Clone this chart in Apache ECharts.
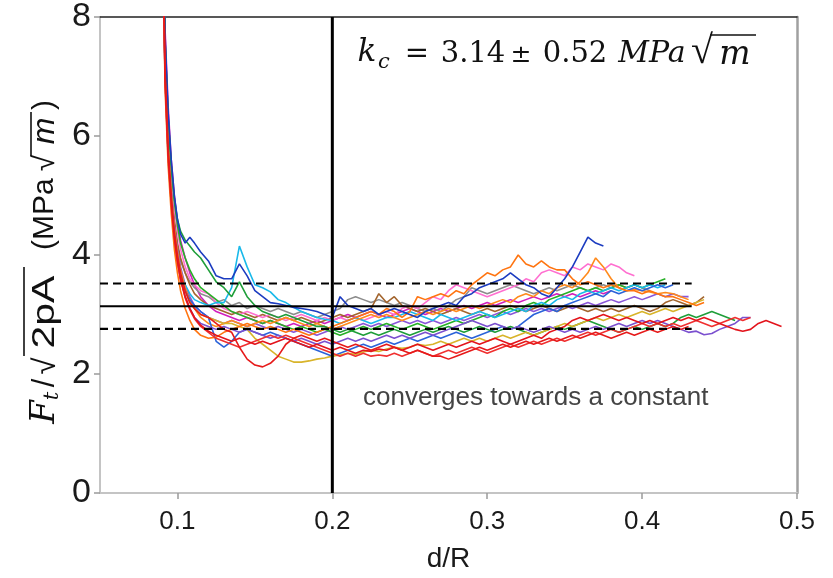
<!DOCTYPE html>
<html>
<head>
<meta charset="utf-8">
<script src="https://cdn.jsdelivr.net/npm/echarts@6.0.0/dist/echarts.min.js"></script>
<style>html,body{margin:0;padding:0;background:#fff;}#c{width:833px;height:578px;}</style>
</head>
<body>
<div id="c"></div>
<script>
// shared d/R sample positions
const X = [0.0905,0.092,0.094,0.096,0.098,0.1,0.102,0.105,0.108,0.111,0.115,
0.12,0.125,0.13,0.135,0.14,0.145,0.15,0.155,0.16,0.165,0.17,0.175,0.18,0.185,0.19,0.195,0.2,0.205,0.21,0.215,
0.22,0.225,0.23,0.235,0.24,0.245,0.25,0.255,0.26,0.265,0.27,0.275,0.28,0.285,0.29,0.295,0.3,0.305,0.31,0.315,
0.32,0.325,0.33,0.335,0.34,0.345,0.35,0.355,0.36,0.365,0.37,0.375,0.38,0.385,0.39,0.395,0.4,0.405,0.41,0.415,
0.42,0.425,0.43,0.435,0.44,0.445,0.45,0.455,0.46,0.465,0.47,0.475,0.48,0.485,0.49];

const blue1 = [10.2,7.7,6.4,5.6,5.0,4.6,4.35,4.2,4.3,4.2,4.05,
3.9,3.65,3.6,3.6,3.85,3.65,3.4,3.3,3.2,3.18,
3.15,3.12,3.1,3.08,3.05,3.0,2.95,3.3,3.15,3.1,
3.05,3.1,3.0,3.05,3.1,3.05,3.0,2.95,3.05,3.1,
3.15,3.2,3.15,3.3,3.35,3.45,3.5,3.55,3.6,3.7,
3.6,3.5,3.45,3.35,3.3,3.45,3.6,3.8,4.05,4.3,
4.2,4.15];
const cyan1 = [9.6,7.1,5.8,5.0,4.4,4.0,3.7,3.5,3.35,3.25,3.2,
3.15,3.2,3.2,3.45,4.15,3.8,3.5,3.45,3.38,3.25,
3.2,3.12,3.05,3.0,2.95,2.92,2.9,2.85,2.9,2.95,
2.9,2.85,2.9,2.95,2.95,3.0,3.05,3.0,2.95,2.9,
3.0,2.95,2.9,2.95,3.0,3.05,3.0,2.95,3.0,3.05,
3.1,3.05,3.15,3.2,3.15,3.25,3.3,3.25,3.35,3.4,
3.35,3.4,3.45,3.4,3.45,3.5,3.45,3.5,3.45,3.5];
const green1 = [10.1,7.6,6.3,5.5,4.95,4.6,4.4,4.25,4.15,4.05,3.95,
3.75,3.55,3.45,3.3,3.55,3.3,3.15,3.05,3.0,2.95,
3.0,2.95,2.9,2.85,2.8,2.8,2.75,2.7,2.75,2.7,
2.65,2.7,2.65,2.7,2.75,2.7,2.65,2.7,2.75,2.7,
2.75,2.8,2.75,2.7,2.75,2.8,2.75,2.7,2.75,2.8,
2.75,2.7,2.65,2.7,2.75,2.8,2.75,2.8,2.85,2.9,
2.85,2.8,2.75,2.7,2.75,2.8,2.75,2.8,2.85,2.8,
2.85,2.95,3.0,2.95,3.0,3.05,3.0,2.95,2.9];
const red1 = [9.6,7.1,5.8,5.0,4.4,4.0,3.7,3.4,3.2,3.1,3.0,
2.95,2.85,2.75,2.7,2.45,2.25,2.15,2.12,2.18,2.3,
2.5,2.6,2.65,2.6,2.55,2.6,2.55,2.5,2.45,2.5,
2.45,2.4,2.45,2.5,2.45,2.4,2.35,2.4,2.35,2.3,
2.3,2.25,2.3,2.35,2.4,2.45,2.4,2.45,2.5,2.45,
2.5,2.55,2.5,2.55,2.6,2.55,2.6,2.65,2.6,2.65,
2.7,2.65,2.6,2.65,2.7,2.65,2.7,2.75,2.7,2.75,
2.8,2.75,2.8];
const orange1 = [9.3,6.8,5.5,4.7,4.1,3.7,3.4,3.1,2.9,2.75,2.65,
2.6,2.62,2.7,2.75,2.8,2.85,2.8,2.75,2.8,2.75,
2.7,2.75,2.7,2.65,2.7,2.75,2.8,2.85,2.9,2.95,
3.0,3.05,3.0,3.1,3.05,2.95,3.05,3.3,3.25,3.3,
3.35,3.3,3.4,3.35,3.5,3.6,3.7,3.65,3.75,3.8,
4.0,3.85,3.8,3.9,3.8,3.75,3.75,3.6,3.5,3.55,
3.5,3.45,3.5,3.45,3.4,3.4,3.35,3.4,3.35,3.3,
3.3,3.25,3.2,3.15,3.2];
const gray1 = [9.7,7.2,5.9,5.1,4.55,4.15,3.9,3.7,3.55,3.45,3.35,
3.3,3.2,3.25,3.15,3.2,3.1,3.15,3.1,3.05,3.1,
3.05,3.0,3.05,3.0,2.95,3.0,3.05,3.1,3.25,3.3,
3.25,3.2,3.25,3.2,3.15,3.2,3.15,3.1,3.05,3.1,
3.05,3.15,3.25,3.3,3.45,3.4,3.35,3.4,3.45,3.5,
3.45,3.4,3.35,3.4,3.45,3.4,3.45,3.5,3.45,3.4,
3.45,3.5,3.45,3.5,3.45,3.5,3.45,3.4];
const brown1 = [9.8,7.3,6.0,5.2,4.6,4.2,3.95,3.7,3.5,3.35,3.25,
3.15,3.1,3.05,3.0,3.05,3.0,2.95,3.0,2.95,2.9,
2.95,2.9,2.95,2.9,2.85,2.9,2.95,3.0,2.95,3.0,
3.05,3.1,3.35,3.2,3.3,3.15,3.1,3.05,3.1,3.05,
3.0,3.05,3.1,3.05,3.0,3.05,3.1,3.05,3.1,3.15,
3.1,3.05,3.1,3.15,3.1,3.05,3.1,3.15,3.1,3.05,
3.1,3.05,3.1,3.05,3.1,3.15,3.1,3.05,3.1,3.2,
3.25,3.2,3.15,3.2,3.3];
const pink1 = [10.0,7.5,6.2,5.4,4.8,4.4,4.1,3.8,3.6,3.5,3.4,
3.35,3.2,3.1,3.05,3.0,3.05,3.0,2.95,3.0,2.95,
2.9,2.95,3.0,2.95,2.9,2.95,2.9,2.95,2.9,2.95,
2.9,2.95,3.0,3.05,3.0,3.1,3.15,3.1,3.2,3.3,
3.25,3.4,3.5,3.45,3.4,3.35,3.3,3.35,3.4,3.45,
3.5,3.6,3.55,3.7,3.75,3.7,3.65,3.8,3.75,3.85,
3.8,3.75,3.85,3.8,3.7,3.65];
const purple1 = [9.6,7.15,5.85,5.05,4.5,4.1,3.8,3.5,3.3,3.15,3.05,
2.95,2.9,2.85,2.9,2.85,2.8,2.85,2.8,2.75,2.8,
2.75,2.7,2.75,2.7,2.65,2.7,2.75,2.8,2.75,2.8,
2.85,2.8,2.85,2.8,2.85,2.9,2.85,2.9,2.85,2.9,
2.85,2.9,2.95,2.9,2.95,3.0,2.95,3.0,3.05,3.0,
3.05,3.1,3.05,3.1,3.05,3.1,3.15,3.1,3.15,3.2,
3.15,3.2,3.25,3.2,3.25,3.3,3.25,3.3,3.35,3.3,
3.35,3.3,3.3];
const yellow1 = [9.6,7.1,5.8,5.0,4.4,4.0,3.7,3.4,3.2,3.1,3.0,
2.95,2.9,2.85,2.85,2.8,2.75,2.6,2.5,2.4,2.3,
2.25,2.2,2.2,2.22,2.25,2.27,2.3,2.32,2.35,2.33,
2.37,2.4,2.38,2.42,2.45,2.43,2.45,2.5,2.48,2.5,
2.55,2.5,2.55,2.6,2.55,2.6,2.55,2.6,2.65,2.6,
2.65,2.7,2.65,2.7,2.75,2.8,2.85,2.8,2.85,2.9,
2.95,2.9,2.95,3.0,2.95,3.0,3.05,3.0,3.05,3.1,
3.05,3.1,3.15,3.2,3.25];
const red2 = [9.5,7.0,5.7,4.9,4.3,3.9,3.6,3.3,3.1,2.95,2.82,
2.72,2.65,2.6,2.55,2.6,2.55,2.5,2.55,2.5,2.55,
2.6,2.55,2.5,2.45,2.5,2.45,2.4,2.45,2.4,2.35,
2.4,2.38,2.42,2.4,2.45,2.4,2.45,2.5,2.45,2.4,
2.45,2.5,2.45,2.5,2.55,2.5,2.55,2.6,2.55,2.5,
2.55,2.6,2.65,2.6,2.7,2.75,2.8,2.9,2.95,2.9,
2.95,3.0,2.95,2.9,2.95,2.9,2.85,2.9,2.85,2.9,
2.95,2.9,2.95,2.9,2.95,2.9,2.85,2.8,2.75,2.72,
2.75,2.85,2.9,2.85,2.8];
const blue2 = [9.5,7.0,5.7,4.9,4.35,3.95,3.65,3.4,3.25,3.15,3.05,
2.95,2.55,2.45,2.55,2.7,2.75,2.7,2.65,2.7,2.65,
2.6,2.55,2.5,2.45,2.4,2.35,2.3,2.35,2.4,2.45,
2.5,2.45,2.5,2.55,2.5,2.55,2.6,2.55,2.6,2.65,
2.6,2.65,2.7,2.65,2.6,2.65,2.7,2.75,2.8,2.75,
2.8,2.9,3.0,3.05,3.1,3.05,3.15,3.2,3.25,3.3,
3.35,3.3,3.4,3.35,3.4,3.45,3.4,3.45,3.5,3.45,3.5];
const orange2 = [9.6,7.1,5.8,5.0,4.45,4.05,3.75,3.45,3.25,3.1,2.95,
2.85,2.8,2.85,2.9,2.85,2.8,2.85,2.9,2.85,2.9,
2.95,2.9,2.85,2.8,2.85,2.8,2.75,2.8,2.85,2.9,
2.95,3.0,2.95,3.0,2.95,2.9,2.95,3.0,3.05,3.0,
3.05,3.1,3.05,3.1,3.15,3.1,3.15,3.2,3.25,3.2,
3.3,3.35,3.3,3.4,3.35,3.45,3.5,3.45,3.55,3.7,
3.95,3.8,3.6,3.45,3.4,3.42,3.4,3.38,3.35,3.37,
3.35,3.3,3.25];
const green2 = [10.1,7.6,6.3,5.5,4.9,4.5,4.2,3.95,3.75,3.6,3.45,
3.35,3.25,3.15,3.05,3.0,2.95,2.9,2.85,2.9,2.85,
2.8,2.75,2.8,2.75,2.7,2.75,2.7,2.65,2.7,2.75,
2.8,2.75,2.8,2.85,2.8,2.75,2.8,2.85,2.8,2.75,
2.8,2.85,2.9,2.85,2.9,2.95,3.0,2.95,3.05,3.1,
3.05,3.15,3.2,3.15,3.25,3.3,3.35,3.4,3.45,3.4,
3.45,3.4,3.45,3.5,3.45,3.5,3.45,3.5,3.55,3.6];
const magenta1 = [10.3,7.8,6.5,5.6,5.0,4.55,4.25,3.95,3.7,3.5,3.3,
3.15,3.05,3.0,2.95,2.9,2.95,2.9,2.85,2.9,2.85,
2.8,2.85,2.8,2.85,2.9,2.85,2.9,2.95,3.0,2.95,
3.0,3.05,3.0,2.95,3.0,3.05,3.1,3.05,3.0,3.05,
3.1,3.05,3.1,3.15,3.1,3.15,3.2,3.15,3.2,3.25,
3.2,3.25,3.3,3.25,3.3,3.35,3.3,3.35,3.3,3.35,
3.4,3.35,3.4];
const red3 = [9.45,6.95,5.65,4.85,4.28,3.88,3.58,3.28,3.08,2.93,2.8,
2.7,2.6,2.55,2.5,2.45,2.5,2.55,2.6,2.65,2.6,
2.65,2.6,2.55,2.5,2.45,2.4,2.35,2.3,2.35,2.3,
2.35,2.3,2.32,2.3,2.35,2.3,2.35,2.4,2.35,2.3,
2.35,2.4,2.35,2.4,2.45,2.4,2.35,2.4,2.45,2.5,
2.45,2.5,2.55,2.5,2.55,2.6,2.55,2.6,2.65,2.7,
2.65,2.7,2.75,2.7,2.75,2.8,2.85,2.8,2.85,2.8,
2.85,2.8,2.85,2.9,2.85,2.8,2.85,2.9,2.95,2.9,2.95];
const purple2 = [9.4,6.9,5.6,4.85,4.3,3.9,3.6,3.3,3.1,2.95,2.85,
2.8,2.75,2.8,2.75,2.7,2.75,2.7,2.65,2.6,2.65,
2.6,2.55,2.6,2.55,2.5,2.55,2.5,2.55,2.6,2.55,
2.6,2.55,2.6,2.65,2.6,2.65,2.6,2.65,2.7,2.65,
2.7,2.75,2.8,2.85,2.9,2.85,2.8,2.85,2.8,2.75,
2.8,2.75,2.7,2.75,2.8,2.75,2.7,2.75,2.7,2.75,
2.8,2.75,2.8,2.85,2.8,2.85,2.9,2.85,2.9,2.85,
2.8,2.75,2.7,2.72,2.66,2.68,2.75,2.8,2.85,2.95,2.95];

const curves = [
  {v: magenta1, c: '#d21fbe'},
  {v: gray1, c: '#8c8c8c'},
  {v: brown1, c: '#a3652e'},
  {v: pink1, c: '#ff6fd0'},
  {v: purple1, c: '#8a56d8'},
  {v: green2, c: '#27b027'},
  {v: cyan1, c: '#19b9ea'},
  {v: orange2, c: '#ff8a1c'},
  {v: blue2, c: '#2b63d9'},
  {v: green1, c: '#1f9e3a'},
  {v: yellow1, c: '#d8b42a'},
  {v: purple2, c: '#7b50cf'},
  {v: orange1, c: '#ff7410'},
  {v: blue1, c: '#1c3cc0'},
  {v: red3, c: '#f03030'},
  {v: red2, c: '#e3141c'},
  {v: red1, c: '#e61a1a'}
];

const xTicks = [0.1, 0.2, 0.3, 0.4, 0.5];
const kcMean = 3.14;
const kcUpper = 3.52;
const kcLower = 2.76;
const refEndX = 0.432;
const splitX = 0.2;

const series = curves.map(s => ({
  type: 'line', showSymbol: false, silent: true,
  data: s.v.map((y, i) => [X[i], y]),
  lineStyle: {color: s.c, width: 1.6},
  z: 2
}));
series.push({type:'line', showSymbol:false, data:[[0.05,kcMean],[refEndX,kcMean]], lineStyle:{color:'#000', width:2}, z:5});
series.push({type:'line', showSymbol:false, data:[[0.05,kcUpper],[refEndX,kcUpper]], lineStyle:{color:'#000', width:2, type:[8,5]}, z:5});
series.push({type:'line', showSymbol:false, data:[[0.05,kcLower],[refEndX,kcLower]], lineStyle:{color:'#000', width:2.2, type:[8,5]}, z:5});
series.push({type:'line', showSymbol:false, data:[[splitX,0],[splitX,8]], lineStyle:{color:'#000', width:3}, z:6});

const sans = '"Liberation Sans", Arial, sans-serif';
const serif = '"DejaVu Serif", serif';
const lserif = '"Liberation Serif", serif';
const ink = '#111';

function t(x, y, text, size, opts, extra) {
  return Object.assign({type: 'text', x: x, y: y, z: 10,
    style: Object.assign({text: text, fontSize: size, fontFamily: sans, fill: ink,
      align: 'center', verticalAlign: 'middle'}, opts || {})}, extra || {});
}
function bar(x1, y1, x2, y2) {
  return {type: 'line', z: 10, shape: {x1: x1, y1: y1, x2: x2, y2: y2}, style: {stroke: ink, lineWidth: 1.6}};
}

// formula in the upper right
const formula = {
  type: 'group', x: 0, y: 0,
  children: [
    t(367, 53, 'k', 31, {fontFamily: serif, fontStyle: 'italic'}),
    t(384, 63, 'c', 21, {fontFamily: serif, fontStyle: 'italic'}),
    t(417, 54, '=', 29, {fontFamily: serif}),
    t(473, 54, '3.14', 29, {fontFamily: serif}),
    t(521, 55, '±', 25, {fontFamily: serif}),
    t(575, 54, '0.52', 29, {fontFamily: serif}),
    t(652, 54, 'MPa', 30, {fontFamily: serif, fontStyle: 'italic'}),
    t(702, 52, '√', 40, {fontFamily: lserif}),
    t(735, 55, 'm', 33, {fontFamily: serif, fontStyle: 'italic'}),
    bar(710, 35, 756, 35)
  ]
};

// y axis title, rotated; local x runs upward along the axis
const yTitle = {
  type: 'group', x: 45, y: 262, rotation: Math.PI / 2,
  children: [
    t(-150, 0, 'F', 34, {fontFamily: serif, fontStyle: 'italic'}),
    t(-134, 8, 't', 21, {fontFamily: serif, fontStyle: 'italic'}),
    t(-121, 0, '/', 31),
    t(-104, 1, '√', 31),
    t(-50, 0, '2pA', 31, {}, {scaleX: 1.32}),
    bar(-94, -21, -5, -21),
    t(12, 0, '(MPa', 30, {align: 'left'}),
    t(99, 1, '√', 30),
    t(131, 0, 'm', 32, {fontStyle: 'italic'}),
    t(157, 0, ')', 30),
    bar(106, -14, 150, -14)
  ]
};

const chart = echarts.init(document.getElementById('c'), null, {renderer: 'canvas'});
chart.setOption({
  animation: false,
  backgroundColor: '#fff',
  grid: {left: 100, right: 36, top: 14, bottom: 83},
  xAxis: [{
    type: 'value', min: 0.05, max: 0.5, interval: 0.05, position: 'bottom',
    axisLine: {show: true, lineStyle: {color: '#c4c4c4', width: 2}},
    axisTick: {show: true, length: 6, lineStyle: {color: '#9a9a9a', width: 1.5}, customValues: xTicks},
    axisLabel: {customValues: xTicks, fontSize: 26, fontFamily: sans, color: '#1a1a1a', margin: 16,
      formatter: v => String(Math.round(v * 10) / 10)},
    splitLine: {show: false},
    name: 'd/R', nameLocation: 'middle', nameGap: 52,
    nameTextStyle: {fontSize: 28, fontFamily: sans, color: '#1a1a1a'}
  }, {
    type: 'value', min: 0.05, max: 0.5, position: 'top',
    axisLine: {show: true, onZero: false, lineStyle: {color: '#222', width: 1.5}},
    axisTick: {show: false}, axisLabel: {show: false}, splitLine: {show: false}
  }],
  yAxis: [{
    type: 'value', min: 0, max: 8, interval: 2,
    axisLine: {show: true, lineStyle: {color: '#c4c4c4', width: 2}},
    axisTick: {show: true, length: 6, lineStyle: {color: '#9a9a9a', width: 1.5}},
    axisLabel: {fontSize: 34, fontFamily: sans, color: '#1a1a1a', margin: 9},
    splitLine: {show: false}
  }, {
    type: 'value', min: 0, max: 8, position: 'right',
    axisLine: {show: true, lineStyle: {color: '#a0a0a0', width: 2.5}},
    axisTick: {show: false}, axisLabel: {show: false}, splitLine: {show: false}
  }],
  series: series,
  graphic: [
    formula,
    yTitle,
    {
      type: 'text', x: 363, y: 398, z: 10,
      style: {text: 'converges towards a constant', fontFamily: sans, fontSize: 26,
        fill: '#444', verticalAlign: 'middle', align: 'left'}
    }
  ]
});
</script>
</body>
</html>
